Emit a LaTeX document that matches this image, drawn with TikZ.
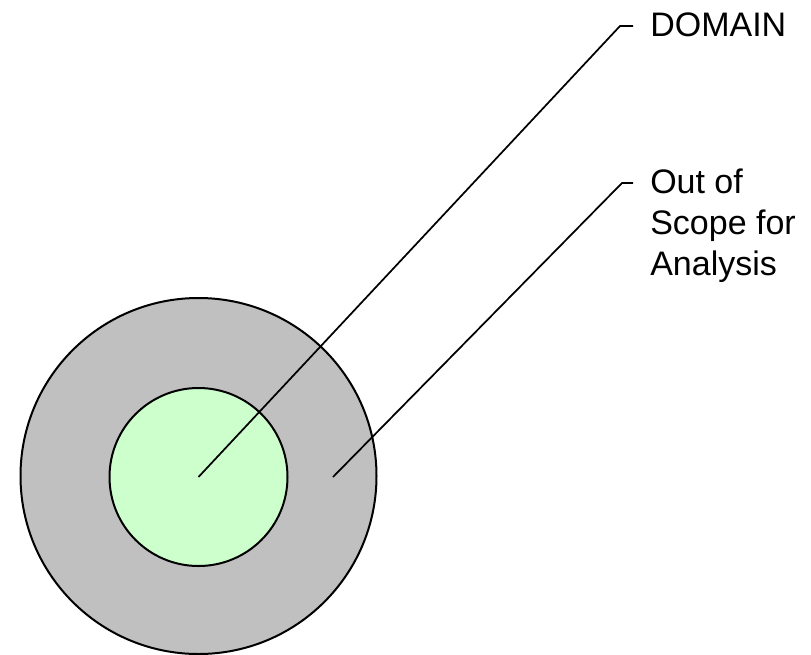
\documentclass[tikz,border=0pt]{standalone}
\usepackage{fontspec}
\setmainfont{Liberation Sans}
\usetikzlibrary{positioning}

\definecolor{ringgray}{RGB}{192,192,192}
\definecolor{coregreen}{RGB}{204,255,204}

\tikzset{
  zone/.style={circle, draw=black, line width=1.5pt, inner sep=0pt},
  leader/.style={draw=black, line width=1.3pt},
  lbl/.style={inner sep=0pt, align=left, font=\fontsize{25.5}{30.75}\selectfont}
}

\begin{document}
\begin{tikzpicture}[x=0.75pt,y=0.75pt,yscale=-1,xscale=1]
\useasboundingbox (0,0) rectangle (811,654);

% Circles
\node [zone, fill=ringgray, minimum size=267pt] (scope) at (198.5,476) {};
\node [zone, fill=coregreen, minimum size=133.5pt] (domain) at (198.5,477) {};

% Text Node
\node [lbl, anchor=base west] (domainlbl) at (650,36) {DOMAIN};
% Text Node (base = last line)
\node [lbl, anchor=base west] (scopelbl) at (650,275) {Out of\\Scope for\\Analysis};

% Straight Lines
\coordinate (ringpt) at (333,477);
\coordinate (kneeD) at (620,26);
\coordinate (tipD) at (633,26);
\coordinate (kneeS) at (622,183);
\coordinate (tipS) at (633,183);
\draw [leader] (domain.center) -- (kneeD) -- (tipD);
\draw [leader] (ringpt) -- (kneeS) -- (tipS);

\end{tikzpicture}
\end{document}
